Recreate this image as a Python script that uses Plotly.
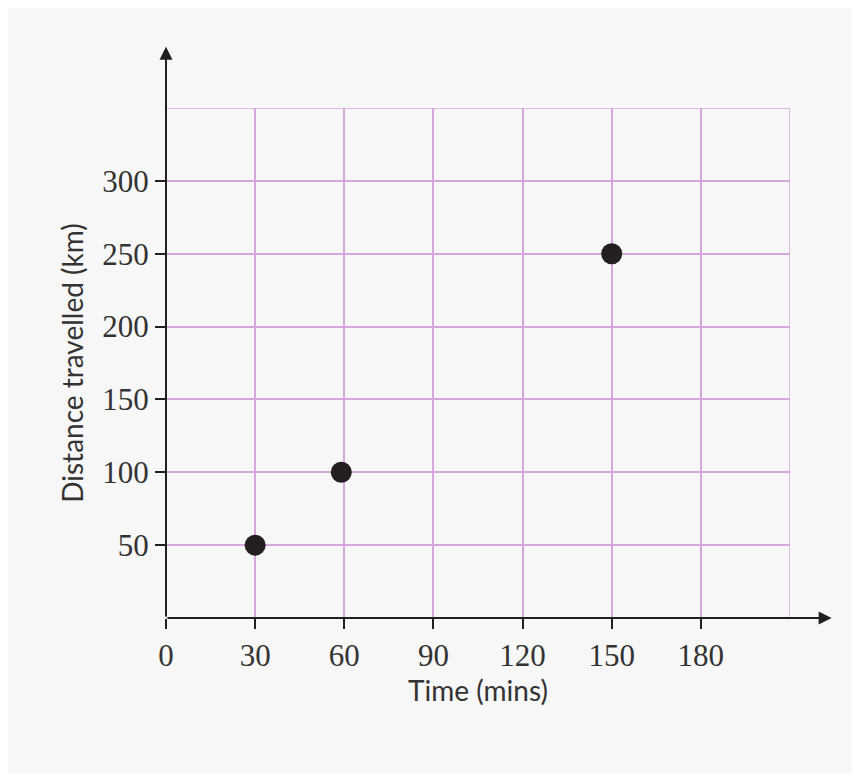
import plotly.graph_objects as go

time_mins = [30, 59, 150]
distance_km = [50, 100, 250]
x_ticks = [0, 30, 60, 90, 120, 150, 180]
y_ticks = [50, 100, 150, 200, 250, 300]

grid_col = "#d8a6df"
tick_font = dict(family="Liberation Serif, DejaVu Serif, serif", size=31, color="#333333")
title_font = dict(family="Lato, Open Sans, sans-serif", size=28, color="#333333")

fig = go.Figure()
fig.add_trace(go.Scatter(
    x=time_mins, y=distance_km, mode="markers",
    marker=dict(size=21, color="#231f20"),
    cliponaxis=False,
))

# outer grid border (top and right)
fig.add_shape(type="rect", xref="x", yref="y", x0=0, x1=210, y0=0, y1=350,
              line=dict(color=grid_col, width=1.5), layer="below")

# axis arrows
fig.add_annotation(x=0, y=392, ax=0, ay=0, xref="x", yref="y", axref="x", ayref="y",
                   showarrow=True, arrowhead=2, arrowsize=1.3, arrowwidth=2, arrowcolor="#231f20", text="")
fig.add_annotation(x=224, y=0, ax=0, ay=0, xref="x", yref="y", axref="x", ayref="y",
                   showarrow=True, arrowhead=2, arrowsize=1.3, arrowwidth=2, arrowcolor="#231f20", text="")

fig.update_xaxes(range=[0, 210], tickvals=x_ticks, showgrid=True, gridcolor=grid_col, gridwidth=1.5,
                 zeroline=False, showline=False, ticks="outside", ticklen=10, tickwidth=2,
                 tickcolor="#231f20", tickfont=tick_font,
                 title=dict(text="Time (mins)", font=title_font, standoff=8))
fig.update_yaxes(range=[0, 350], tickvals=y_ticks, showgrid=True, gridcolor=grid_col, gridwidth=1.5,
                 zeroline=False, showline=False, ticks="outside", ticklen=10, tickwidth=2,
                 tickcolor="#231f20", tickfont=tick_font,
                 title=dict(text="Distance travelled (km)", font=title_font, standoff=10))

fig.update_layout(
    width=844, height=765,
    margin=dict(l=158, r=62, t=100, b=155),
    paper_bgcolor="#f7f7f7", plot_bgcolor="#f7f7f7",
    showlegend=False,
)
fig.write_html("out.html")
